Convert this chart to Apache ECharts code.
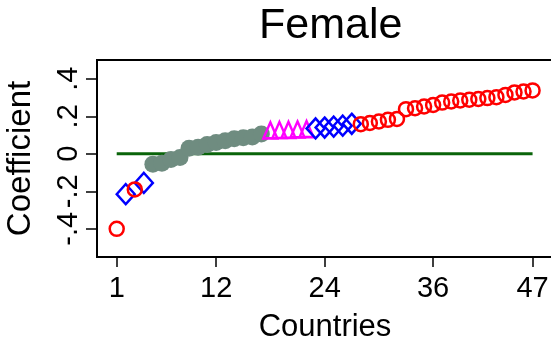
<!DOCTYPE html>
<html>
<head>
<meta charset="utf-8">
<script src="https://cdn.jsdelivr.net/npm/echarts@6/dist/echarts.min.js"></script>
<style>html,body{margin:0;padding:0;background:#fff;}#c{width:551px;height:338px;}</style>
</head>
<body>
<div id="c"></div>
<script>
// Data
const countries = [1,2,3,4,5,6,7,8,9,10,11,12,13,14,15,16,17,18,19,20,21,22,23,24,25,26,27,28,29,30,31,32,33,34,35,36,37,38,39,40,41,42,43,44,45,46,47];
const coef = [-0.40,-0.215,-0.19,-0.155,-0.055,-0.05,-0.03,-0.02,0.03,0.035,0.05,0.06,0.07,0.08,0.085,0.09,0.105,
  0.125,0.127,0.128,0.13,0.132,0.135,0.14,0.145,0.15,0.16,
  0.158,0.164,0.172,0.181,0.186,0.238,0.243,0.252,0.26,0.273,0.279,0.284,0.288,0.292,0.297,0.302,0.314,0.327,0.332,0.338];
const group = ['R','B','R','B','G','G','G','G','G','G','G','G','G','G','G','G','G',
  'M','M','M','M','M','B','B','B','B','B',
  'R','R','R','R','R','R','R','R','R','R','R','R','R','R','R','R','R','R','R','R'];
const xTicks = [1,12,24,36,47];
const yTicks = [-0.4,-0.2,0,0.2,0.4];
const yTickLabels = ['-.4','-.2','0','.2','.4'];
const refLine = [[1,0],[47,0]];

function pts(g){ const out=[]; for(let i=0;i<countries.length;i++){ if(group[i]===g) out.push([countries[i],coef[i]]);} return out; }

const FONT = "'Liberation Sans', Arial, sans-serif";
const chart = echarts.init(document.getElementById('c'), null, {renderer:'canvas'});
chart.setOption({
  animation:false,
  backgroundColor:'#fff',
  title:{text:'Female', left:254, top:0, textStyle:{fontFamily:FONT, fontSize:43, fontWeight:'normal', color:'#000'}},
  grid:{left:97, top:60, width:456, height:197, outerBoundsMode:'none', containLabel:false, show:true, borderColor:'#000', borderWidth:2, backgroundColor:'transparent'},
  xAxis:{type:'value', min:-1.18, max:49.26,
    name:'Countries', nameLocation:'middle', nameGap:55,
    nameTextStyle:{fontFamily:FONT, fontSize:31, color:'#000'},
    axisLine:{show:true, onZero:false, lineStyle:{color:'#000', width:2}},
    axisTick:{show:true, length:10, customValues:xTicks, lineStyle:{color:'#000', width:1.5}},
    axisLabel:{customValues:xTicks, margin:17, fontFamily:FONT, fontSize:29, color:'#000'},
    splitLine:{show:false}},
  yAxis:{type:'value', min:-0.55, max:0.5,
    name:'Coefficient', nameLocation:'middle', nameGap:60, nameRotate:90,
    nameTextStyle:{fontFamily:FONT, fontSize:33, color:'#000'},
    axisLine:{show:true, onZero:false, lineStyle:{color:'#000', width:2}},
    axisTick:{show:true, length:11, customValues:yTicks, lineStyle:{color:'#000', width:1.5}},
    axisLabel:{customValues:yTicks, rotate:90, margin:14, fontFamily:FONT, fontSize:29, color:'#000',
      formatter:function(v){ const i=yTicks.findIndex(t=>Math.abs(t-v)<1e-9); return i>=0?yTickLabels[i]:''; }},
    splitLine:{show:false}},
  series:[
    {type:'line', data:refLine, symbol:'none', lineStyle:{color:'#0a640a', width:3}, z:1},
    {type:'scatter', data:pts('G'), symbol:'circle', symbolSize:17, itemStyle:{color:'#6f8c80', opacity:1}, z:2},
    {type:'scatter', data:pts('M'), symbol:'triangle', symbolSize:[14,16], itemStyle:{color:'rgba(0,0,0,0)', borderColor:'#ff00ff', borderWidth:2.5, opacity:1}, z:3},
    {type:'scatter', data:pts('B'), symbol:'diamond', symbolSize:[18,20], itemStyle:{color:'rgba(0,0,0,0)', borderColor:'#0000ff', borderWidth:2.5, opacity:1}, z:4},
    {type:'scatter', data:pts('R'), symbol:'circle', symbolSize:14, itemStyle:{color:'rgba(0,0,0,0)', borderColor:'#ff0000', borderWidth:2.5, opacity:1}, z:5}
  ]
});
</script>
</body>
</html>
